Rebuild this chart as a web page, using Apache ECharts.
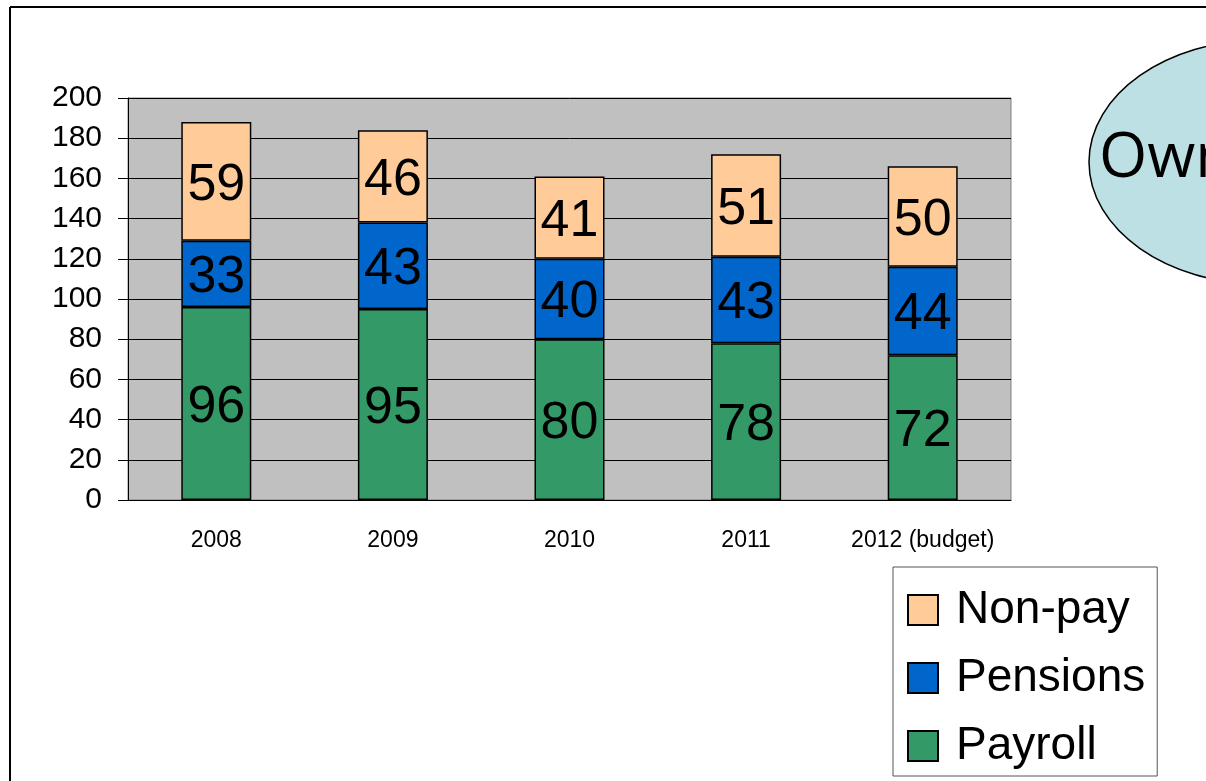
<!DOCTYPE html>
<html lang="en">
<head>
    <meta charset="UTF-8">
    <title>Spending</title>
    <script src="https://cdn.jsdelivr.net/npm/echarts@6/dist/echarts.min.js"></script>
    <style>
        html, body { margin: 0; padding: 0; background: #fff; }
        #main { width: 1206px; height: 781px; }
    </style>
</head>
<body>
<div id="main"></div>
<script>
    // data
    var years = ['2008', '2009', '2010', '2011', '2012 (budget)'];
    var payroll = [96, 95, 80, 78, 72];
    var pensions = [33, 43, 40, 43, 44];
    var nonPay = [59, 46, 41, 51, 50];
    var legendOrder = ['Non-pay', 'Pensions', 'Payroll'];

    var myChart = echarts.init(document.getElementById('main'));

    var labelStyle = {
        show: true,
        position: 'inside',
        offset: [0, 4],
        color: '#000',
        fontSize: 52,
        fontFamily: 'Liberation Sans, Arial, sans-serif'
    };

    function bar(name, data, color) {
        return {
            name: name,
            type: 'bar',
            stack: 'total',
            barWidth: 70,
            data: data,
            itemStyle: { color: color, borderColor: '#000', borderWidth: 1.5 },
            label: labelStyle,
            emphasis: { disabled: true }
        };
    }

    var option = {
        animation: false,
        textStyle: { fontFamily: 'Liberation Sans, Arial, sans-serif' },
        grid: {
            left: 128, right: 195, top: 98, bottom: 281,
            show: true,
            backgroundColor: '#C0C0C0',
            borderColor: '#808080',
            borderWidth: 1
        },
        legend: {
            data: legendOrder,
            orient: 'vertical',
            left: 893,
            top: 567,
            width: 267,
            height: 209,
            icon: 'rect',
            itemWidth: 30,
            itemHeight: 30,
            itemGap: 22,
            padding: [20, 12, 7, 14],
            borderColor: '#555',
            borderWidth: 1,
            textStyle: { fontSize: 46, lineHeight: 46, color: '#000', padding: [0, 0, 0, 13] }
        },
        xAxis: {
            type: 'category',
            data: years,
            axisLine: { lineStyle: { color: '#000', width: 1 } },
            axisTick: { length: 6, lineStyle: { color: '#000' } },
            axisLabel: { interval: 0, fontSize: 23, color: '#000', margin: 29 }
        },
        yAxis: {
            type: 'value',
            min: 0,
            max: 200,
            interval: 20,
            axisLine: { show: true, lineStyle: { color: '#000', width: 1 } },
            axisTick: { show: true, length: 10, lineStyle: { color: '#000' } },
            axisLabel: { fontSize: 30, color: '#000', margin: 26 },
            splitLine: { lineStyle: { color: '#000', width: 1 } }
        },
        series: [
            bar('Payroll', payroll, '#339966'),
            bar('Pensions', pensions, '#0066CC'),
            bar('Non-pay', nonPay, '#FFCC99')
        ],
        graphic: [
            { type: 'line', shape: { x1: 10, y1: 7, x2: 1206, y2: 7 }, style: { stroke: '#000', lineWidth: 2 } },
            { type: 'line', shape: { x1: 10, y1: 7, x2: 10, y2: 781 }, style: { stroke: '#000', lineWidth: 2 } },
            {
                type: 'ellipse',
                shape: { cx: 1262, cy: 162, rx: 173, ry: 122 },
                style: { fill: '#BCE0E3', stroke: '#000', lineWidth: 1.5 }
            },
            {
                type: 'text',
                left: 1099,
                top: 128,
                style: { text: 'Own', fontSize: 62, fill: '#000', fontFamily: 'Open Sans, DejaVu Sans, sans-serif' }
            }
        ]
    };

    myChart.setOption(option);
</script>
</body>
</html>
